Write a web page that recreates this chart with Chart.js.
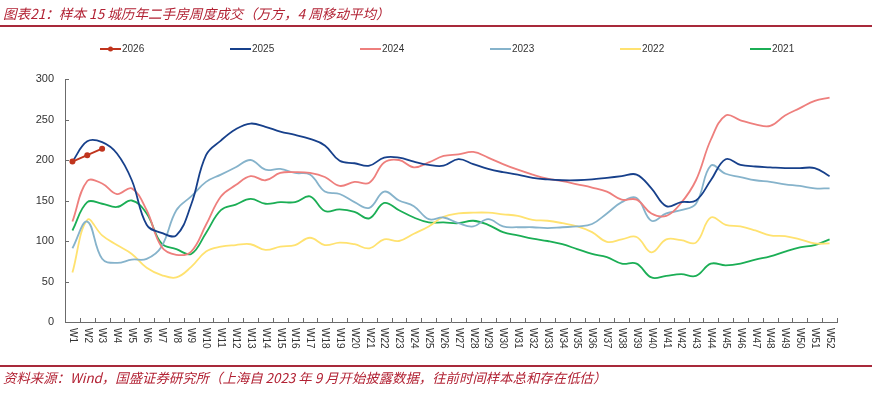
<!DOCTYPE html>
<html>
<head>
<meta charset="utf-8">
<script src="https://cdn.jsdelivr.net/npm/chart.js@4/dist/chart.umd.min.js"></script>
<style>
  html, body { margin: 0; padding: 0; background: #fff; }
  #wrap { position: relative; width: 872px; height: 399px; }
  #chart { position: absolute; left: 0; top: 0; }
  .title {
    position: absolute; left: 3px; top: 3px;
    font: italic 13.6px "Noto Sans CJK SC", sans-serif;
    color: #B22234; white-space: nowrap;
  }
  .rule { position: absolute; left: 0; width: 872px; height: 1.5px; background: #A8293A; }
  .source {
    position: absolute; left: 3px; top: 367px;
    font: italic 13.4px "Noto Sans CJK SC", sans-serif;
    color: #B22234; white-space: nowrap;
  }
</style>
</head>
<body>
<div id="wrap">
  <canvas id="chart" width="872" height="399"></canvas>
  <div class="title">图表21：样本 15 城历年二手房周度成交（万方，4 周移动平均）</div>
  <div class="rule" style="top:25px"></div>
  <div class="rule" style="top:365px"></div>
  <div class="source">资料来源：Wind，国盛证券研究所（上海自 2023 年 9 月开始披露数据，往前时间样本总和存在低估）</div>
</div>
<script>
// week labels
const weeks = ['W1','W2','W3','W4','W5','W6','W7','W8','W9','W10','W11','W12','W13',
  'W14','W15','W16','W17','W18','W19','W20','W21','W22','W23','W24','W25','W26',
  'W27','W28','W29','W30','W31','W32','W33','W34','W35','W36','W37','W38','W39',
  'W40','W41','W42','W43','W44','W45','W46','W47','W48','W49','W50','W51','W52'];

// values (万方)
const y2026 = [198, 206, 214];
const y2025 = [198, 223, 222, 208, 175, 120, 110, 107, 145, 206, 224, 238, 245,
  241, 235, 231, 226, 218, 199, 196, 193, 203, 203, 198, 194, 193,
  201, 195, 189, 185, 182, 178, 176, 175, 175, 176, 178, 180, 182,
  165, 143, 148, 150, 175, 201, 194, 192, 191, 190, 190, 190, 180];
const y2024 = [124, 174, 171, 158, 165, 138, 93, 83, 87, 120, 155, 169, 180,
  175, 184, 185, 184, 179, 168, 173, 172, 197, 200, 191, 197, 205,
  207, 210, 203, 195, 188, 182, 177, 174, 170, 166, 161, 151, 151,
  134, 131, 147, 175, 225, 255, 249, 244, 242, 255, 264, 273, 277];
const y2023 = [91, 124, 78, 73, 77, 78, 93, 138, 155, 173, 182, 191, 200,
  188, 189, 184, 182, 161, 158, 148, 141, 161, 150, 143, 127, 129,
  122, 118, 127, 118, 117, 117, 116, 117, 118, 121, 134, 148, 153,
  125, 134, 138, 146, 193, 183, 179, 175, 173, 170, 168, 165, 165];
const y2022 = [61, 126, 107, 95, 84, 67, 58, 55, 68, 87, 93, 95, 96,
  89, 93, 95, 104, 95, 98, 96, 91, 102, 100, 109, 118, 130,
  134, 135, 135, 133, 131, 126, 125, 122, 118, 111, 99, 102, 105,
  86, 102, 101, 98, 129, 120, 118, 113, 107, 106, 102, 97, 97];
const y2021 = [113, 148, 146, 142, 150, 134, 97, 90, 84, 110, 138, 145, 152,
  146, 148, 148, 155, 137, 139, 136, 128, 147, 138, 129, 123, 123,
  122, 125, 120, 111, 107, 103, 100, 96, 90, 84, 80, 72, 72,
  55, 57, 59, 57, 72, 70, 72, 77, 81, 87, 92, 95, 102];

const seriesNames = ['2026', '2025', '2024', '2023', '2022', '2021'];
const seriesColors = ['#C0341D', '#17408B', '#EE7F7D', '#86B3CB', '#FFE270', '#1BAE55'];
const seriesData = [y2026, y2025, y2024, y2023, y2022, y2021];

const axisColor = '#6b6b6b';
const textColor = '#333';

// legend, inside ticks and clockwise week labels drawn here
const decor = {
    id: 'decor',
    afterDraw(chart) {
        const ctx = chart.ctx;
        const xs = chart.scales.x;
        const ys = chart.scales.y;
        const area = chart.chartArea;
        ctx.save();

        // tick marks pointing into the plot
        ctx.strokeStyle = axisColor;
        ctx.lineWidth = 1;
        const step = xs.getPixelForTick(1) - xs.getPixelForTick(0);
        ctx.beginPath();
        for (let i = 0; i <= weeks.length; i++) {
            const px = Math.round(xs.getPixelForTick(0) - step / 2 + i * step) + 0.5;
            ctx.moveTo(px, area.bottom);
            ctx.lineTo(px, area.bottom - 4);
        }
        ys.ticks.forEach(t => {
            const py = Math.round(ys.getPixelForValue(t.value)) + 0.5;
            ctx.moveTo(area.left, py);
            ctx.lineTo(area.left + 4, py);
        });
        ctx.stroke();

        // week labels, rotated clockwise
        ctx.fillStyle = textColor;
        ctx.font = '10px "Liberation Sans", Arial, sans-serif';
        ctx.textAlign = 'left';
        ctx.textBaseline = 'middle';
        weeks.forEach((w, i) => {
            const px = xs.getPixelForTick(i);
            ctx.save();
            ctx.translate(px, area.bottom + 6);
            ctx.rotate(Math.PI / 2);
            ctx.fillText(w, 0, 0);
            ctx.restore();
        });

        // legend
        const lx0 = 100, gap = 130, ly = 49;
        ctx.font = '10px "Liberation Sans", Arial, sans-serif';
        ctx.textBaseline = 'middle';
        seriesNames.forEach((name, i) => {
            const x = lx0 + i * gap;
            ctx.strokeStyle = seriesColors[i];
            ctx.lineWidth = 2;
            ctx.beginPath();
            ctx.moveTo(x, ly);
            ctx.lineTo(x + 21, ly);
            ctx.stroke();
            if (i === 0) {
                ctx.fillStyle = seriesColors[i];
                ctx.beginPath();
                ctx.arc(x + 10.5, ly, 2.5, 0, Math.PI * 2);
                ctx.fill();
            }
            ctx.fillStyle = textColor;
            ctx.fillText(name, x + 22, ly);
        });
        ctx.restore();
    }
};

new Chart(document.getElementById('chart'), {
    type: 'line',
    data: {
        labels: weeks,
        datasets: seriesNames.map((name, i) => ({
            label: name,
            data: seriesData[i],
            borderColor: seriesColors[i],
            backgroundColor: seriesColors[i],
            borderWidth: 1.8,
            tension: 0.4,
            pointRadius: i === 0 ? 3 : 0,
            pointBorderWidth: 0,
            fill: false,
            order: i === 0 ? 0 : i
        })).reverse()
    },
    options: {
        responsive: false,
        animation: false,
        layout: { padding: { top: 79, right: 35, bottom: 77, left: 0 } },
        plugins: {
            legend: { display: false },
            tooltip: { enabled: false }
        },
        scales: {
            x: {
                offset: true,
                grid: { display: false },
                border: { display: true, color: axisColor, width: 1 },
                ticks: { display: false },
                afterFit: s => { s.height = 0; }
            },
            y: {
                min: 0,
                max: 300,
                grid: { display: false, drawTicks: false },
                border: { display: true, color: axisColor, width: 1 },
                ticks: {
                    stepSize: 50,
                    padding: 11,
                    color: textColor,
                    font: { family: '"Liberation Sans", Arial, sans-serif', size: 11 }
                },
                afterFit: s => { s.width = 65; }
            }
        }
    },
    plugins: [decor]
});
</script>
</body>
</html>
